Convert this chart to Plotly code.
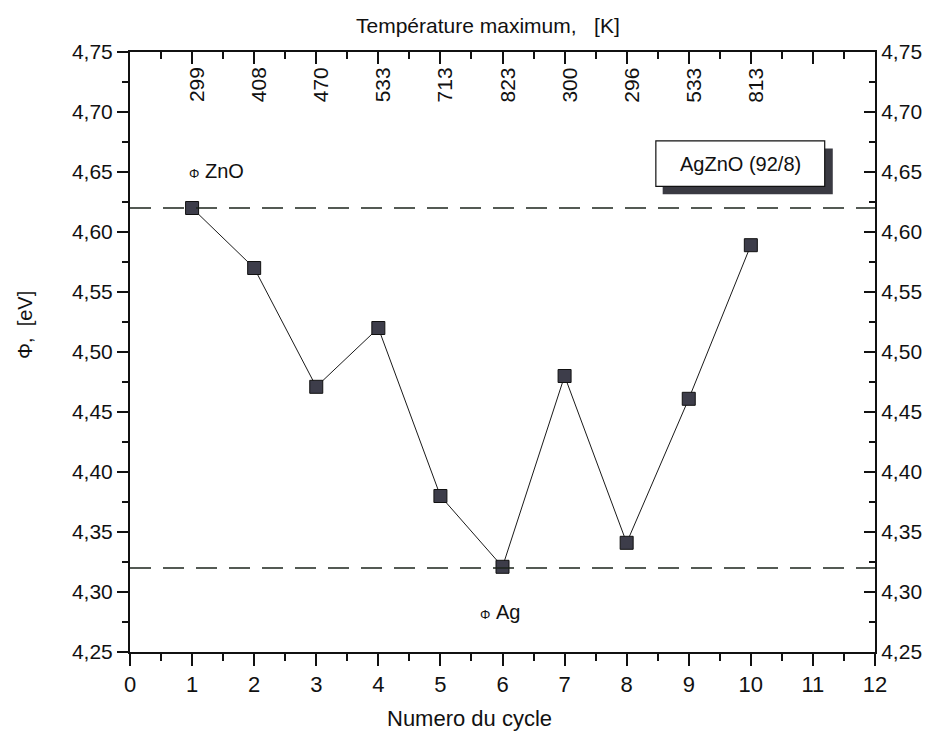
import plotly.graph_objects as go

# Work function of AgZnO (92/8) contacts versus switching cycle
cycles = [1, 2, 3, 4, 5, 6, 7, 8, 9, 10]
phi_ev = [4.620, 4.570, 4.471, 4.520, 4.380, 4.321, 4.480, 4.341, 4.461, 4.589]
max_temp_k = ["299", "408", "470", "533", "713", "823", "300", "296", "533", "813"]

# Reference work functions of the pure materials
phi_zno = 4.62
phi_ag = 4.32

# Axis tick positions
x_ticks = list(range(0, 13))
x_minor = [i + 0.5 for i in range(12)]
y_ticks = [4.25, 4.30, 4.35, 4.40, 4.45, 4.50, 4.55, 4.60, 4.65, 4.70, 4.75]
y_minor = [4.275, 4.325, 4.375, 4.425, 4.475, 4.525, 4.575, 4.625, 4.675, 4.725]

FONT = "Liberation Sans, Arial, sans-serif"
INK = "#111111"

fig = go.Figure()

# Measured points joined by a thin line
fig.add_trace(go.Scatter(
    x=cycles, y=phi_ev, mode="lines+markers",
    line=dict(color="#1a1a1a", width=1),
    marker=dict(symbol="square", size=13, color="#3d3d4a",
                line=dict(color=INK, width=1)),
    showlegend=False, hoverinfo="x+y",
))

# Invisible copy on the secondary axes so the top and right scales render
fig.add_trace(go.Scatter(
    x=cycles, y=phi_ev, xaxis="x2", yaxis="y2", mode="markers",
    marker=dict(opacity=0), showlegend=False, hoverinfo="skip",
))

# Reference levels
for level in (phi_zno, phi_ag):
    fig.add_shape(type="line", xref="x", yref="y", x0=0, x1=12, y0=level, y1=level,
                  line=dict(color="#1c241c", width=1.5, dash="21px,12px"))

# Sample label box with drop shadow
fig.add_shape(type="rect", xref="x", yref="y", x0=8.58, x1=11.32, y0=4.6315, y1=4.6695,
              line=dict(width=0), fillcolor="#3a3a42", layer="above")
fig.add_shape(type="rect", xref="x", yref="y", x0=8.47, x1=11.19, y0=4.638, y1=4.676,
              line=dict(color=INK, width=1.2), fillcolor="white", layer="above")
fig.add_annotation(x=9.83, y=4.657, xref="x", yref="y", text="AgZnO (92/8)",
                   showarrow=False, font=dict(family=FONT, size=20, color=INK))

fig.add_annotation(x=1.40, y=4.651, xref="x", yref="y",
                   text="<span style='font-size:13px'>Φ</span> ZnO",
                   showarrow=False, font=dict(family=FONT, size=20, color=INK))
fig.add_annotation(x=5.96, y=4.283, xref="x", yref="y",
                   text="<span style='font-size:13px'>Φ</span> Ag",
                   showarrow=False, font=dict(family=FONT, size=20, color=INK))

# Maximum temperature of each cycle, written vertically under the top axis
for c, t in zip(cycles, max_temp_k):
    fig.add_annotation(x=c, y=1, xref="x", yref="paper", text=t, textangle=-90,
                       showarrow=False, yanchor="middle", xanchor="center", yshift=-33,
                       xshift=4, font=dict(family=FONT, size=21, color=INK))

# Axis titles
fig.add_annotation(x=0.481, y=1.045, xref="paper", yref="paper",
                   text="Température maximum,   [K]", showarrow=False,
                   yanchor="middle", font=dict(family=FONT, size=21, color=INK))
fig.add_annotation(x=0.456, y=0, xref="paper", yref="paper", yshift=-66,
                   text="Numero du cycle", showarrow=False,
                   yanchor="middle", font=dict(family=FONT, size=22, color=INK))
fig.add_annotation(x=0, y=0.545, xref="paper", yref="paper", xshift=-105,
                   text="Φ,  [eV]", textangle=-90, showarrow=False,
                   xanchor="center", yanchor="middle",
                   font=dict(family=FONT, size=20, color=INK))

axis_font = dict(family=FONT, size=21, color=INK)


def frame(**kw):
    base = dict(showline=True, linecolor=INK, linewidth=2, showgrid=False, zeroline=False,
                tickwidth=2, tickcolor=INK)
    base.update(kw)
    return base


fig.update_layout(
    width=941, height=734,
    margin=dict(l=130, r=66, t=52, b=82),
    paper_bgcolor="white", plot_bgcolor="rgba(0,0,0,0)",
    separators=", ",
    showlegend=False,
    xaxis=frame(
        range=[0, 12], tickmode="array", tickvals=x_ticks, ticks="outside", ticklen=12,
        tickfont=dict(family=FONT, size=22, color=INK),
        minor=dict(tickvals=x_minor, ticks="outside", ticklen=7, tickwidth=2, tickcolor=INK),
    ),
    xaxis2=frame(
        range=[0, 12], overlaying="x", side="top", anchor="y",
        tickmode="array", tickvals=x_ticks, ticks="inside", ticklen=12, showticklabels=False,
        minor=dict(tickvals=x_minor, ticks="inside", ticklen=7, tickwidth=2, tickcolor=INK),
    ),
    yaxis=frame(
        range=[4.25, 4.75], tickmode="array", tickvals=y_ticks, tickformat=".2f",
        ticks="outside", ticklen=11, tickfont=axis_font,
        minor=dict(tickvals=y_minor, ticks="outside", ticklen=6, tickwidth=2, tickcolor=INK),
    ),
    yaxis2=frame(
        range=[4.25, 4.75], overlaying="y", side="right", anchor="x",
        tickmode="array", tickvals=y_ticks, tickformat=".2f", ticks="inside", ticklen=11,
        tickfont=axis_font,
        minor=dict(tickvals=y_minor, ticks="inside", ticklen=6, tickwidth=2, tickcolor=INK),
    ),
)

fig.write_html("out.html")
